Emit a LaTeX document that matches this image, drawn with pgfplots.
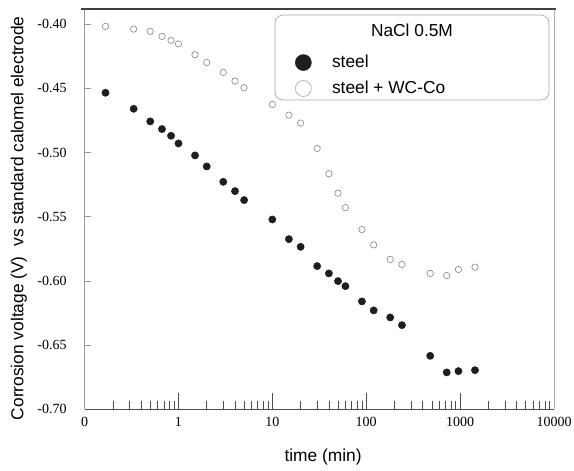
\documentclass[border=0pt]{standalone}
\usepackage{fontspec}
\setmainfont{Liberation Serif}
\setsansfont{Liberation Sans}
\usepackage{pgfplots}
\pgfplotsset{compat=1.18}

\definecolor{dotfill}{HTML}{1E1E1E}
\definecolor{opengray}{HTML}{8C8C8C}
\definecolor{axgray}{HTML}{9A9A9A}

\begin{document}
\begin{tikzpicture}
\begin{axis}[
    scale only axis,
    width=352pt,
    height=300.6pt,
    xmode=log,
    xmin=0.1, xmax=10000,
    ymin=-0.70, ymax=-0.3878,
    axis line style={draw=none},
    tick align=inside,
    xtick pos=bottom,
    ytick pos=left,
    xtick={0.1,1,10,100,1000,10000},
    xticklabels={0,1,10,100,1000,10000},
    ytick={-0.70,-0.65,-0.60,-0.55,-0.50,-0.45,-0.40},
    yticklabels={-0.70,-0.65,-0.60,-0.55,-0.50,-0.45,-0.40},
    major tick length=12.5pt,
    minor tick length=6pt,
    ytick style={/pgfplots/major tick length=4.5pt, axgray, line width=0.5pt},
    xtick style={black!70, line width=0.5pt},
    tick label style={font=\fontsize{10.5}{12}\selectfont},
    xticklabel style={yshift=-2pt},
    yticklabel style={xshift=-10pt},
    xlabel={time (min)},
    ylabel={Corrosion voltage (V)\ \ vs standard calomel electrode},
    label style={font=\sffamily\fontsize{13}{15}\selectfont},
    xlabel style={at={(axis description cs:0.508,-0.119)}, anchor=center},
    ylabel style={at={(axis description cs:-0.1398,0.477)}, anchor=center},
    legend style={draw=none, fill=none, inner sep=0pt,
        at={(axis description cs:0.4477,0.8865)}, anchor=north west,
        row sep=7pt, font=\sffamily\fontsize{13}{15}\selectfont,
        nodes={inner sep=0pt}},
    legend cell align=left,
    clip=false,
]

% steel
\addplot[only marks, mark=*, mark size=2.7pt, mark options={fill=dotfill, draw=dotfill},
    legend image code/.code={\fill[dotfill] (0pt,0pt) circle (6pt);
        \path[draw=none, fill=none] (0pt,0pt) -- (21.5pt,0pt);}]
coordinates {
(0.167,-0.4534) (0.333,-0.4659) (0.5,-0.4757) (0.667,-0.4817) (0.833,-0.4869)
(1,-0.4929) (1.5,-0.5022) (2,-0.5108) (3,-0.5228) (4,-0.5300) (5,-0.5370)
(10,-0.5521) (15,-0.5674) (20,-0.5734) (30,-0.5884) (40,-0.5941) (50,-0.6001)
(60,-0.6040) (90,-0.6159) (120,-0.6229) (180,-0.6284) (240,-0.6344)
(480,-0.6583) (720,-0.6712) (960,-0.6702) (1440,-0.6695)
};
\addlegendentry{steel}

% steel + WC-Co
\addplot[only marks, mark=o, mark size=2.4pt, mark options={draw=opengray, line width=0.5pt},
    legend image code/.code={\draw[opengray!70, line width=0.5pt] (0pt,0pt) circle (6pt);
        \path[draw=none, fill=none] (0pt,0pt) -- (21.5pt,0pt);}]
coordinates {
(0.167,-0.4017) (0.333,-0.4038) (0.5,-0.4056) (0.667,-0.4095) (0.833,-0.4126)
(1,-0.4153) (1.5,-0.4238) (2,-0.4298) (3,-0.4375) (4,-0.4443) (5,-0.4495)
(10,-0.4625) (15,-0.4708) (20,-0.4770) (30,-0.4968) (40,-0.5165) (50,-0.5316)
(60,-0.5429) (90,-0.5599) (120,-0.5719) (180,-0.5832) (240,-0.5871)
(480,-0.5941) (720,-0.5958) (960,-0.5910) (1440,-0.5892)
};
\addlegendentry{steel + WC-Co}

% axis frame
\draw[axgray, line width=0.5pt] (rel axis cs:0,0) -- (rel axis cs:0,1);
\draw[axgray!80, line width=0.4pt] (rel axis cs:1,0) -- (rel axis cs:1,1);
\draw[black!70, line width=0.7pt] (rel axis cs:0,0) -- (rel axis cs:1,0);
\draw[black!75, line width=1.5pt] ([xshift=-3pt]rel axis cs:0,1) -- ([xshift=1.5pt]rel axis cs:1,1);

% legend frame and title
\draw[black!35, line width=0.5pt, rounded corners=6pt]
    (axis description cs:0.4056,0.7717) rectangle (axis description cs:0.9893,0.9838);
\node[anchor=base, font=\sffamily\fontsize{13}{15}\selectfont]
    at (axis description cs:0.6975,0.929) {NaCl 0.5M};

\coordinate (sw) at (rel axis cs:0,0);
\coordinate (ne) at (rel axis cs:1,1);
\end{axis}
\pgfresetboundingbox
\path ([shift={(-63.45pt,-45.5pt)}]sw) rectangle ([shift={(15pt,6.4pt)}]ne);
\end{tikzpicture}
\end{document}
